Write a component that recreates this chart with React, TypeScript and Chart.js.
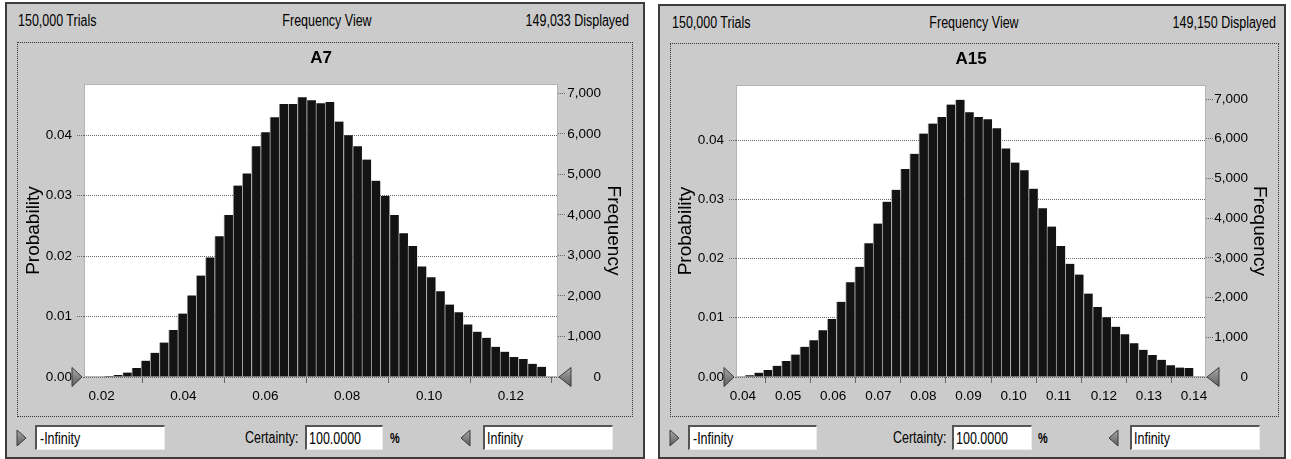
import React, { useEffect, useRef } from "react";
import { Chart, registerables } from "chart.js";

Chart.register(...registerables);

const FONT = '"Liberation Sans", Arial, Helvetica, sans-serif';

// ---------- Forecast A7 ----------
const a7Name = "A7";
const a7Trials = 150000;
const a7Displayed = 149033;
const a7BinStart = 0.01841;
const a7BinWidth = 0.002248;
const a7Probability = [
  0.00008, 0.00017, 0.00033, 0.00075, 0.0015, 0.0027, 0.004, 0.0057, 0.0078, 0.0105,
  0.0135, 0.0168, 0.0198, 0.0233, 0.0268, 0.0317, 0.0337, 0.0382, 0.0405, 0.043,
  0.0452, 0.0452, 0.0463, 0.0458, 0.0453, 0.0455, 0.0423, 0.04, 0.0382, 0.036,
  0.0325, 0.03, 0.0268, 0.0238, 0.0217, 0.0183, 0.0165, 0.0142, 0.012, 0.0107,
  0.0087, 0.0075, 0.0065, 0.005, 0.0042, 0.0033, 0.003, 0.0022, 0.0017,
];
const a7XTicks = [0.02, 0.04, 0.06, 0.08, 0.1, 0.12];
const a7XRange = [0.01572, 0.13148];
const a7ProbMax = 0.0485;

// ---------- Forecast A15 ----------
const a15Name = "A15";
const a15Trials = 150000;
const a15Displayed = 149150;
const a15BinStart = 0.04044;
const a15BinWidth = 0.002029;
const a15Probability = [
  0.00029, 0.00073, 0.00118, 0.0019, 0.0027, 0.0038, 0.0051, 0.0062, 0.0079, 0.0098,
  0.0127, 0.016, 0.0186, 0.0226, 0.0259, 0.0296, 0.0316, 0.0351, 0.0377, 0.0411,
  0.0428, 0.0439, 0.046, 0.0468, 0.0447, 0.0439, 0.0435, 0.042, 0.0386, 0.0362,
  0.0349, 0.0318, 0.0285, 0.0254, 0.0221, 0.0191, 0.0173, 0.0141, 0.0118, 0.0101,
  0.0085, 0.0072, 0.0057, 0.0046, 0.0037, 0.0029, 0.002, 0.0016, 0.0015,
];
const a15XTicks = [0.04, 0.05, 0.06, 0.07, 0.08, 0.09, 0.1, 0.11, 0.12, 0.13, 0.14];
const a15XRange = [0.03845, 0.14266];
const a15ProbMax = 0.0493;

// ---------- Shared axes ----------
const probTicks = [0, 0.01, 0.02, 0.03, 0.04];
const freqTicks = [0, 1000, 2000, 3000, 4000, 5000, 6000, 7000];
const certaintyValue = "100.0000";
const lowerBound = "-Infinity";
const upperBound = "Infinity";

const fmtInt = (n: number) => n.toLocaleString("en-US");

const GRID = "#666666";

// white plot area with a dotted frame
const plotAreaPlugin = {
  id: "plotArea",
  beforeDraw(chart: any) {
    const { ctx, chartArea: a } = chart;
    ctx.save();
    ctx.fillStyle = "#ffffff";
    ctx.fillRect(a.left, a.top, a.right - a.left, a.bottom - a.top);
    ctx.restore();
  },
  beforeDatasetsDraw(chart: any) {
    const { ctx, chartArea: a } = chart;
    ctx.save();
    ctx.strokeStyle = GRID;
    ctx.lineWidth = 1;
    ctx.setLineDash([1, 1]);
    ctx.strokeRect(
      Math.round(a.left) + 0.5,
      Math.round(a.top) + 0.5,
      Math.round(a.right - a.left) - 1,
      Math.round(a.bottom - a.top) - 1
    );
    ctx.restore();
  },
};

// certainty grabbers at both ends of the value axis
const grabberPlugin = {
  id: "grabbers",
  afterDraw(chart: any) {
    const { ctx, chartArea: a } = chart;
    const draw = (tip: number, base: number) => {
      const y = a.bottom;
      ctx.save();
      ctx.beginPath();
      ctx.moveTo(tip, y);
      ctx.lineTo(base, y - 9.5);
      ctx.lineTo(base, y + 9.5);
      ctx.closePath();
      const g = ctx.createLinearGradient(0, y - 9.5, 0, y + 9.5);
      g.addColorStop(0, "#a8a8a8");
      g.addColorStop(1, "#5e5e5e");
      ctx.fillStyle = g;
      ctx.fill();
      ctx.strokeStyle = "#3a3a3a";
      ctx.lineWidth = 1;
      ctx.stroke();
      ctx.restore();
    };
    draw(a.left - 2, a.left - 12);
    draw(a.right + 1, a.right + 13);
  },
};

type ChartLayout = {
  leftAxis: number;
  freqAxis: number;
  freqTitleAxis: number;
  bottomAxis: number;
  titleTop: number;
  titleBottom: number;
  probTitlePad: number;
  freqTitlePad: number;
};

type ChartProps = {
  width: number;
  height: number;
  name: string;
  binStart: number;
  binWidth: number;
  probability: number[];
  displayed: number;
  xTicks: number[];
  xRange: number[];
  probMax: number;
  layout: ChartLayout;
};

function FrequencyChart(props: ChartProps) {
  const ref = useRef<HTMLCanvasElement | null>(null);
  useEffect(() => {
    const { name, binStart, binWidth, probability, displayed, xTicks, xRange, probMax, layout } = props;
    const points = probability.map((p, i) => ({ x: binStart + (i + 0.5) * binWidth, y: p }));
    const tickFont = { family: FONT, size: 13.5 };
    const titleFont = { family: FONT, size: 19, weight: "normal" as const };
    const chart = new Chart(ref.current as HTMLCanvasElement, {
      type: "bar",
      data: {
        datasets: [
          {
            data: points as any,
            backgroundColor: "#131313",
            borderColor: "#a8a8a8",
            borderWidth: { left: 1, top: 0, right: 0, bottom: 0 },
            borderSkipped: false,
            barPercentage: 1,
            categoryPercentage: 1,
          },
        ],
      },
      options: {
        responsive: false,
        animation: false,
        events: [],
        layout: { padding: 0 },
        plugins: {
          legend: { display: false },
          tooltip: { enabled: false },
          title: {
            display: true,
            text: name,
            fullSize: false,
            color: "#000",
            font: { family: FONT, size: 17, weight: "bold" },
            padding: { top: layout.titleTop, bottom: layout.titleBottom },
          },
        },
        scales: {
          x: {
            type: "linear",
            position: "bottom",
            min: xRange[0],
            max: xRange[1],
            offset: false,
            afterBuildTicks: (s: any) => {
              s.ticks = xTicks.map((v) => ({ value: v }));
            },
            afterFit: (s: any) => {
              s.height = layout.bottomAxis;
            },
            ticks: {
              font: tickFont,
              color: "#000",
              padding: 5,
              maxRotation: 0,
              autoSkip: false,
              callback: (v: any) => Number(v).toFixed(2),
            },
            grid: {
              display: true,
              drawOnChartArea: false,
              drawTicks: true,
              tickLength: 6,
              tickColor: GRID,
            },
            border: { display: false },
          },
          y: {
            position: "left",
            min: 0,
            max: probMax,
            afterBuildTicks: (s: any) => {
              s.ticks = probTicks.map((v) => ({ value: v }));
            },
            afterFit: (s: any) => {
              s.width = layout.leftAxis;
            },
            ticks: {
              font: tickFont,
              color: "#000",
              padding: 5,
              callback: (v: any) => Number(v).toFixed(2),
            },
            grid: {
              color: GRID,
              lineWidth: 1,
              drawTicks: true,
              tickLength: 7,
              tickColor: GRID,
              tickBorderDash: [1, 1],
            },
            border: { display: false, dash: [1, 1] },
            title: {
              display: true,
              text: "Probability",
              color: "#000",
              font: titleFont,
              padding: { top: layout.probTitlePad, bottom: 0 },
            },
          },
          y2: {
            position: "right",
            min: 0,
            max: probMax * displayed,
            afterBuildTicks: (s: any) => {
              s.ticks = freqTicks.map((v) => ({ value: v }));
            },
            afterFit: (s: any) => {
              s.width = layout.freqAxis;
            },
            ticks: {
              font: tickFont,
              color: "#000",
              padding: 4,
              crossAlign: "far",
              callback: (v: any) => fmtInt(Number(v)),
            },
            grid: {
              drawOnChartArea: false,
              drawTicks: true,
              tickLength: 7,
              tickColor: GRID,
              tickBorderDash: [1, 1],
            },
            border: { display: false },
          },
          y3: {
            position: "right",
            weight: 1,
            min: 0,
            max: 1,
            afterFit: (s: any) => {
              s.width = layout.freqTitleAxis;
            },
            ticks: { display: false },
            grid: { display: false },
            border: { display: false },
            title: {
              display: true,
              text: "Frequency",
              color: "#000",
              font: titleFont,
              padding: { top: layout.freqTitlePad, bottom: 0 },
            },
          },
        },
      } as any,
      plugins: [plotAreaPlugin, grabberPlugin],
    });
    return () => chart.destroy();
  }, []);
  return (
    <canvas
      ref={ref}
      width={props.width}
      height={props.height}
      style={{ display: "block", width: props.width, height: props.height }}
    />
  );
}

type Align = "left" | "center" | "right";

function CText(props: { x: number; y: number; text: string; align?: Align; size?: number; sx?: number; bold?: boolean }) {
  const { x, y, text, align = "left", size = 16, sx = 0.78, bold = false } = props;
  const shift = align === "left" ? "" : align === "center" ? "translateX(-50%) " : "translateX(-100%) ";
  const origin = align === "left" ? "0 0" : align === "center" ? "50% 0" : "100% 0";
  return (
    <div
      style={{
        position: "absolute",
        left: x,
        top: y,
        width: "max-content",
        fontFamily: FONT,
        fontSize: size,
        lineHeight: `${size}px`,
        fontWeight: bold ? 700 : 400,
        color: "#000",
        whiteSpace: "nowrap",
        transform: `${shift}scaleX(${sx})`,
        transformOrigin: origin,
      }}
    >
      {text}
    </div>
  );
}

function Grip(props: { x: number; y: number; dir: "right" | "left" }) {
  const { x, y, dir } = props;
  const pts = dir === "right" ? "1,1 10,9 1,17" : "10,1 1,9 10,17";
  return (
    <svg width={11} height={18} style={{ position: "absolute", left: x, top: y }}>
      <defs>
        <linearGradient id={`g${x}`} x1="0" y1="0" x2="0" y2="1">
          <stop offset="0" stopColor="#a9a9a9" />
          <stop offset="1" stopColor="#5c5c5c" />
        </linearGradient>
      </defs>
      <polygon points={pts} fill={`url(#g${x})`} stroke="#3a3a3a" strokeWidth={1} />
    </svg>
  );
}

function Field(props: { x: number; w: number }) {
  return (
    <div
      style={{
        position: "absolute",
        left: props.x,
        top: 425,
        width: props.w,
        height: 25,
        boxSizing: "border-box",
        background: "#ffffff",
        borderTop: "2px solid #555",
        borderLeft: "2px solid #555",
        borderRight: "1px solid #ececec",
        borderBottom: "1px solid #ececec",
      }}
    />
  );
}

type PanelSpec = {
  outer: { x: number; y: number; w: number; h: number };
  frame: { x: number; y: number; w: number; h: number };
  headerY: number;
  trialsX: number;
  viewX: number;
  displayedRight: number;
  trials: number;
  displayed: number;
  leftGripX: number;
  lowBox: { x: number; w: number };
  certaintyX: number;
  certBox: { x: number; w: number };
  pctX: number;
  rightGripX: number;
  highBox: { x: number; w: number };
  chart: Omit<ChartProps, "width" | "height">;
};

const panelBackground = "#cbcbcb";

function Panel({ p }: { p: PanelSpec }) {
  return (
    <>
      <div
        style={{
          position: "absolute",
          left: p.outer.x,
          top: p.outer.y,
          width: p.outer.w,
          height: p.outer.h,
          boxSizing: "border-box",
          border: "2px solid #3c3c3c",
          background: panelBackground,
        }}
      />
      <CText x={p.trialsX} y={p.headerY} text={`${fmtInt(p.trials)} Trials`} />
      <CText x={p.viewX} y={p.headerY} text="Frequency View" align="center" />
      <CText x={p.displayedRight} y={p.headerY} text={`${fmtInt(p.displayed)} Displayed`} align="right" />
      <div
        style={{
          position: "absolute",
          left: p.frame.x,
          top: p.frame.y,
          width: p.frame.w,
          height: p.frame.h,
          boxSizing: "border-box",
          border: "1px dotted #333",
        }}
      />
      <div style={{ position: "absolute", left: p.frame.x, top: p.frame.y }}>
        <FrequencyChart width={p.frame.w} height={p.frame.h} {...p.chart} />
      </div>
      <Grip x={p.leftGripX} y={429} dir="right" />
      <Field x={p.lowBox.x} w={p.lowBox.w} />
      <CText x={p.lowBox.x + 5} y={430.5} text={lowerBound} />
      <CText x={p.certaintyX} y={429.5} text="Certainty:" />
      <Field x={p.certBox.x} w={p.certBox.w} />
      <CText x={p.certBox.x + 4} y={430.5} text={certaintyValue} />
      <CText x={p.pctX} y={431} text="%" size={14} bold />
      <Grip x={p.rightGripX} y={429} dir="left" />
      <Field x={p.highBox.x} w={p.highBox.w} />
      <CText x={p.highBox.x + 4} y={430.5} text={upperBound} />
    </>
  );
}

const panels: PanelSpec[] = [
  {
    outer: { x: 5, y: 2, w: 640, h: 457 },
    frame: { x: 17, y: 42, w: 616, h: 375 },
    headerY: 13,
    trialsX: 18,
    viewX: 327,
    displayedRight: 629,
    trials: a7Trials,
    displayed: a7Displayed,
    leftGripX: 16,
    lowBox: { x: 35, w: 130 },
    certaintyX: 245,
    certBox: { x: 305, w: 78 },
    pctX: 390,
    rightGripX: 460,
    highBox: { x: 483, w: 130 },
    chart: {
      name: a7Name,
      binStart: a7BinStart,
      binWidth: a7BinWidth,
      probability: a7Probability,
      displayed: a7Displayed,
      xTicks: a7XTicks,
      xRange: a7XRange,
      probMax: a7ProbMax,
      layout: {
        leftAxis: 67,
        freqAxis: 43,
        freqTitleAxis: 32,
        bottomAxis: 40,
        titleTop: 6,
        titleBottom: 15.6,
        probTitlePad: 5,
        freqTitlePad: 8,
      },
    },
  },
  {
    outer: { x: 658, y: 4, w: 628, h: 455 },
    frame: { x: 670, y: 43, w: 609, h: 374 },
    headerY: 15,
    trialsX: 672,
    viewX: 974,
    displayedRight: 1276,
    trials: a15Trials,
    displayed: a15Displayed,
    leftGripX: 669,
    lowBox: { x: 688, w: 129 },
    certaintyX: 893,
    certBox: { x: 952, w: 80 },
    pctX: 1038,
    rightGripX: 1108,
    highBox: { x: 1130, w: 130 },
    chart: {
      name: a15Name,
      binStart: a15BinStart,
      binWidth: a15BinWidth,
      probability: a15Probability,
      displayed: a15Displayed,
      xTicks: a15XTicks,
      xRange: a15XRange,
      probMax: a15ProbMax,
      layout: {
        leftAxis: 66,
        freqAxis: 42,
        freqTitleAxis: 31,
        bottomAxis: 40,
        titleTop: 6.6,
        titleBottom: 15,
        probTitlePad: 4,
        freqTitlePad: 8,
      },
    },
  },
];

export default function App() {
  return (
    <div
      style={{
        position: "fixed",
        left: 0,
        top: 0,
        width: 1291,
        height: 459,
        overflow: "hidden",
        background: "#ffffff",
      }}
    >
      {panels.map((p, i) => (
        <Panel key={i} p={p} />
      ))}
    </div>
  );
}
